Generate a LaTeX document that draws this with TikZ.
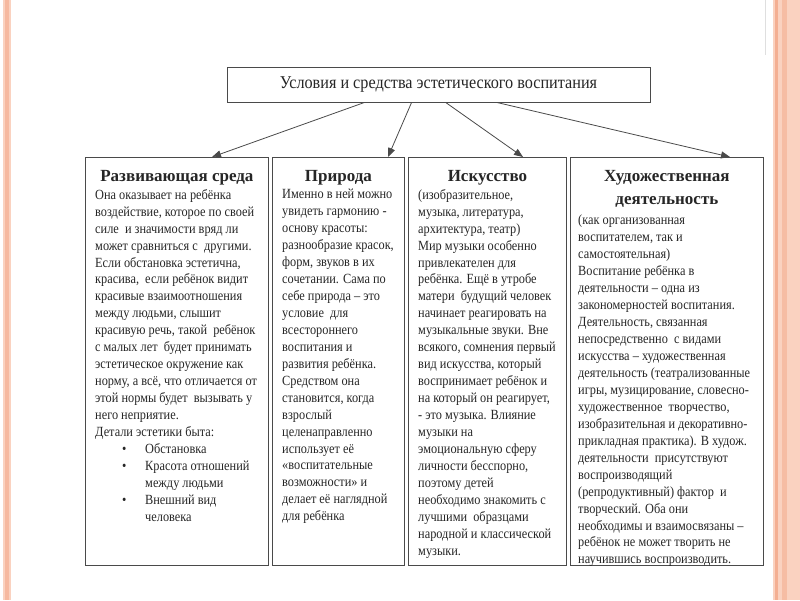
\documentclass[tikz,border=0pt]{standalone}
\usepackage{fontspec}
\setmainfont{Liberation Serif}[FakeStretch=0.88]
\newfontfamily\headfont{Liberation Serif}
\newfontfamily\titlefont{Liberation Serif}[FakeStretch=0.9]
\usepackage{xcolor}
\usetikzlibrary{arrows.meta, positioning}

\definecolor{lososj}{HTML}{FAD2C0}
\definecolor{lososjDark}{HTML}{F4AF92}
\definecolor{ramka}{HTML}{4A4A4A}
\definecolor{tekst}{HTML}{262626}

\begin{document}
\begin{tikzpicture}[x=1pt, y=-1pt, >={Triangle[length=9pt, width=7pt]},
    kolonka/.style={draw=ramka, line width=0.8pt, inner sep=0pt, anchor=north west},
    zagolovok/.style={font=\headfont\fontsize{17}{20}\selectfont\bfseries, text=tekst,
        anchor=north, inner sep=0pt, align=center},
    tekstik/.style={font=\fontsize{14}{16.95}\selectfont, text=tekst,
        anchor=north west, inner sep=0pt, align=left},
    strelka/.style={->, draw=ramka, line width=0.8pt}]

    % =================================================================
    % 1. ФОН СЛАЙДА И ПОЛОСЫ ПО КРАЯМ
    % =================================================================
    \useasboundingbox (0,0) rectangle (800,600);
    \fill[white] (0,0) rectangle (800,600);

    % Левая полоса
    \fill[lososj] (3,0) rectangle (11,600);
    \fill[lososjDark!70!lososj] (5,0) rectangle (8.5,600);

    % Правая полоса
    \fill[lososj] (773,0) rectangle (800,600);
    \fill[lososjDark] (775,0) rectangle (778,600);
    \fill[lososjDark!60!lososj] (782,0) rectangle (787,600);
    \draw[gray!25, line width=0.8pt] (765,0) -- (765,55);

    % =================================================================
    % 2. ЗАГОЛОВОК СХЕМЫ
    % =================================================================
    \node[draw=ramka, line width=0.8pt, minimum width=423, minimum height=35,
        inner sep=0pt, font=\titlefont\fontsize{18}{20}\selectfont, text=tekst]
        (usl) at (438.5,84.5) {Условия и средства эстетического воспитания};

    % =================================================================
    % 3. ЧЕТЫРЕ КОЛОНКИ
    % =================================================================
    \node[kolonka, minimum width=183, minimum height=408] (sreda) at (85,157) {};
    \node[kolonka, minimum width=132, minimum height=408] (priroda) at (272,157) {};
    \node[kolonka, minimum width=158, minimum height=408] (iskusstvo) at (408,157) {};
    \node[kolonka, minimum width=193, minimum height=408] (hudozh) at (570,157) {};

    % Заголовки колонок
    \node[zagolovok] (sredaZag) at ([yshift=-13pt]sreda.north) {Развивающая среда};
    \node[zagolovok] (prirodaZag) at ([yshift=-13pt]priroda.north) {Природа};
    \node[zagolovok] (iskusstvoZag) at ([yshift=-13pt]iskusstvo.north) {Искусство};
    \node[zagolovok] (hudozhZag) at ([yshift=-13pt]hudozh.north)
        {Художественная\\[3pt]деятельность};

    % =================================================================
    % 4. ТЕКСТ В КОЛОНКАХ
    % =================================================================
    \node[tekstik] (sredaTxt) at ([shift={(10,32)}]sreda.north west) {%
        Она оказывает на ребёнка\\
        воздействие, которое по своей\\
        силе \ и значимости вряд ли\\
        может сравниться с \ другими.\\
        Если обстановка эстетична,\\
        красива, \ если ребёнок видит\\
        красивые взаимоотношения\\
        между людьми, слышит\\
        красивую речь, такой \ ребёнок\\
        с малых лет \ будет принимать\\
        эстетическое окружение как\\
        норму, а всё, что отличается от\\
        этой нормы будет \ вызывать у\\
        него неприятие.\\
        Детали эстетики быта:\\
        \hspace*{27pt}\makebox[23pt][l]{\textbullet}Обстановка\\
        \hspace*{27pt}\makebox[23pt][l]{\textbullet}Красота отношений\\
        \hspace*{50pt}между людьми\\
        \hspace*{27pt}\makebox[23pt][l]{\textbullet}Внешний вид\\
        \hspace*{50pt}человека};

    \node[tekstik] (prirodaTxt) at ([shift={(10,32)}]priroda.north west) {%
        Именно в ней можно\\
        увидеть гармонию -\\
        основу красоты:\\
        разнообразие красок,\\
        форм, звуков в их\\
        сочетании. Сама по\\
        себе природа – это\\
        условие \ для\\
        всестороннего\\
        воспитания и\\
        развития ребёнка.\\
        Средством она\\
        становится, когда\\
        взрослый\\
        целенаправленно\\
        использует её\\
        «воспитательные\\
        возможности» и\\
        делает её наглядной\\
        для ребёнка};

    \node[tekstik] (iskusstvoTxt) at ([shift={(10,32)}]iskusstvo.north west) {%
        (изобразительное,\\
        музыка, литература,\\
        архитектура, театр)\\
        Мир музыки особенно\\
        привлекателен для\\
        ребёнка. Ещё в утробе\\
        матери \ будущий человек\\
        начинает реагировать на\\
        музыкальные звуки. Вне\\
        всякого, сомнения первый\\
        вид искусства, который\\
        воспринимает ребёнок и\\
        на который он реагирует,\\
        - это музыка. Влияние\\
        музыки на\\
        эмоциональную сферу\\
        личности бесспорно,\\
        поэтому детей\\
        необходимо знакомить с\\
        лучшими \ образцами\\
        народной и классической\\
        музыки.};

    \node[tekstik] (hudozhTxt) at ([shift={(8,58)}]hudozh.north west) {%
        (как организованная\\
        воспитателем, так и\\
        самостоятельная)\\
        Воспитание ребёнка в\\
        деятельности – одна из\\
        закономерностей воспитания.\\
        Деятельность, связанная\\
        непосредственно \ с видами\\
        искусства – художественная\\
        деятельность (театрализованные\\
        игры, музицирование, словесно-\\
        художественное \ творчество,\\
        изобразительная и декоративно-\\
        прикладная практика). В худож.\\
        деятельности \ присутствуют\\
        воспроизводящий\\
        (репродуктивный) фактор \ и\\
        творческий. Оба они\\
        необходимы и взаимосвязаны –\\
        ребёнок не может творить не\\
        научившись воспроизводить.};

    % =================================================================
    % 5. СТРЕЛКИ ОТ ЗАГОЛОВКА К КОЛОНКАМ
    % =================================================================
    \draw[strelka] ([xshift=138pt]usl.south west) -- ([xshift=127pt]sreda.north west);
    \draw[strelka] ([xshift=185pt]usl.south west) -- ([xshift=116pt]priroda.north west);
    \draw[strelka] ([xshift=219pt]usl.south west) -- ([xshift=115pt]iskusstvo.north west);
    \draw[strelka] ([xshift=270pt]usl.south west) -- ([xshift=160pt]hudozh.north west);

\end{tikzpicture}
\end{document}
